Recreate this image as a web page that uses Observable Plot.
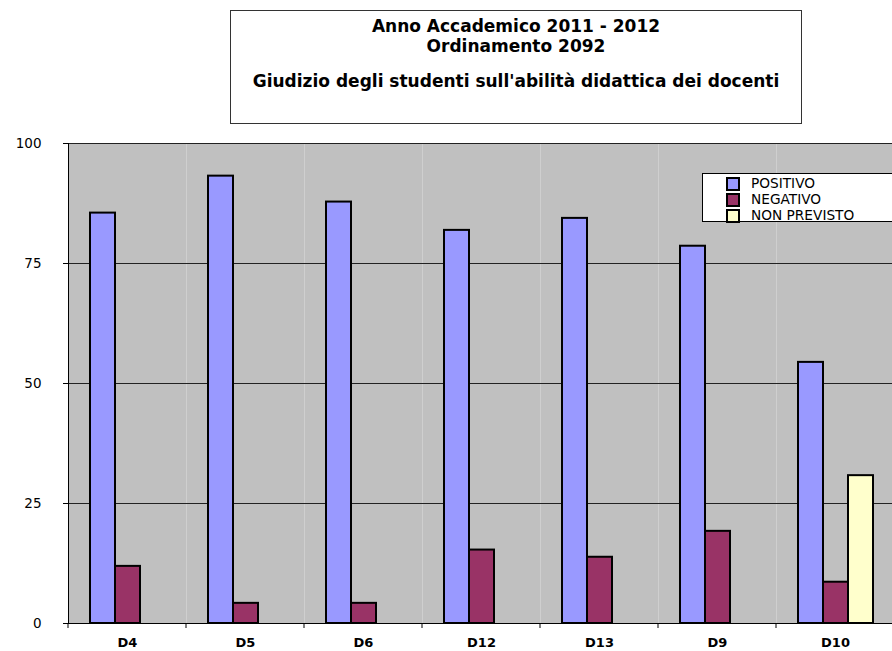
<!DOCTYPE html>
<html>
<head>
<meta charset="utf-8">
<script src="https://cdn.jsdelivr.net/npm/d3@7"></script>
<script src="https://cdn.jsdelivr.net/npm/@observablehq/plot@0.6"></script>
<style>
  html, body { margin: 0; padding: 0; background: #fff; overflow: hidden; }
  #wrap { position: relative; width: 892px; height: 651px; overflow: hidden; font-family: "DejaVu Sans", sans-serif; }
  #header { position: relative; height: 130px; }
  #title {
    position: absolute; left: 230px; top: 10px; width: 572px; height: 114px;
    border: 1px solid #333; background: #fff; box-sizing: border-box;
    text-align: center; font-weight: bold; font-size: 17px; line-height: 19.5px; padding-top: 6px;
  }
  #title .gap { height: 16px; }
  #legend {
    position: absolute; left: 702px; top: 173px; width: 200px; height: 49px;
    border: 1px solid #000; background: #fff; box-sizing: border-box; padding-top: 1px;
    font-size: 13.7px;
  }
  #legend .row { height: 16px; line-height: 16px; position: relative; white-space: nowrap; }
  #legend .sw { position: absolute; left: 23px; top: 2px; width: 10px; height: 10px; border: 2px solid #000; }
  #legend .lab { position: absolute; left: 48px; top: 0; }
  #chart svg { display: block; max-width: none !important; }
</style>
</head>
<body>
<div id="wrap">
  <div id="header"><div id="title"></div></div>
  <div id="chart"></div>
  <div id="legend"></div>
</div>
<script>
// Heading lines of the chart
const titleLines = ["Anno Accademico 2011 - 2012", "Ordinamento 2092", "", "Giudizio degli studenti sull'abilità didattica dei docenti"];

// Teachers (categories) and judgement series
const categories = ["D4", "D5", "D6", "D12", "D13", "D9", "D10"];
const series = ["POSITIVO", "NEGATIVO", "NON PREVISTO"];
const seriesColors = ["#9999ff", "#993366", "#ffffcc"];

// Percentages per teacher
const positivo    = [85.5, 93.2, 87.8, 81.9, 84.4, 78.6, 54.4];
const negativo    = [11.9,  4.2,  4.2, 15.3, 13.8, 19.2,  8.6];
const nonPrevisto = [   0,    0,    0,    0,    0,    0, 30.8];

const yTicks = [0, 25, 50, 75, 100];

// Long table for the grouped bars
const valuesBySeries = [positivo, negativo, nonPrevisto];
const data = [];
categories.forEach((cat, i) => {
  series.forEach((s, j) => {
    const v = valuesBySeries[j][i];
    if (v > 0) data.push({cat, serie: s, value: v});
  });
});

// Title box
const title = document.getElementById("title");
titleLines.forEach(t => {
  const d = document.createElement("div");
  if (t === "") d.className = "gap"; else d.textContent = t;
  title.appendChild(d);
});

const plot = Plot.plot({
  width: 900,
  height: 521,
  marginTop: 13,
  marginBottom: 28,
  marginLeft: 65,
  marginRight: 3,
  style: {fontFamily: "DejaVu Sans, sans-serif", color: "#000", background: "transparent", maxWidth: "none"},
  fx: {domain: categories, padding: 0},
  x: {domain: series, paddingInner: 0, paddingOuter: 0.785, axis: null},
  y: {domain: [0, 100]},
  color: {domain: series, range: seriesColors},
  marks: [
    Plot.frame({fill: "#c0c0c0", stroke: "none"}),
    Plot.ruleY(yTicks.filter(t => t > 0), {stroke: "#222", strokeWidth: 1}),
    Plot.barY(data, {fx: "cat", x: "serie", y: "value", fill: "serie", stroke: "#000", strokeWidth: 2}),
    Plot.ruleY([0], {stroke: "#000", strokeWidth: 1}),
    Plot.frame({anchor: "left", facetAnchor: "left", stroke: "#000"}),
    Plot.axisY({ticks: yTicks, tickSize: 5, tickPadding: 22, label: null, fontSize: 13.5, tickFormat: d => String(d)}),
    Plot.axisFx({anchor: "bottom", tickSize: 0, tickPadding: 14, label: null, fontSize: 13, fontWeight: "bold"})
  ]
});
document.getElementById("chart").appendChild(plot);

// Category-boundary tick marks under the baseline
const fxs = plot.scale("fx");
const ys = plot.scale("y");
const bounds = categories.map(c => fxs.apply(c));
bounds.push(fxs.apply(categories[categories.length - 1]) + fxs.bandwidth);
const y0 = ys.apply(0);
d3.select(plot).append("g")
  .selectAll("line").data(bounds).join("line")
  .attr("x1", d => d).attr("x2", d => d)
  .attr("y1", y0).attr("y2", y0 + 5)
  .attr("stroke", "#000");

// Legend
const legend = document.getElementById("legend");
series.forEach((s, i) => {
  const row = document.createElement("div");
  row.className = "row";
  const sw = document.createElement("span");
  sw.className = "sw";
  sw.style.background = seriesColors[i];
  const lab = document.createElement("span");
  lab.className = "lab";
  lab.textContent = s;
  row.appendChild(sw); row.appendChild(lab);
  legend.appendChild(row);
});
</script>
</body>
</html>
